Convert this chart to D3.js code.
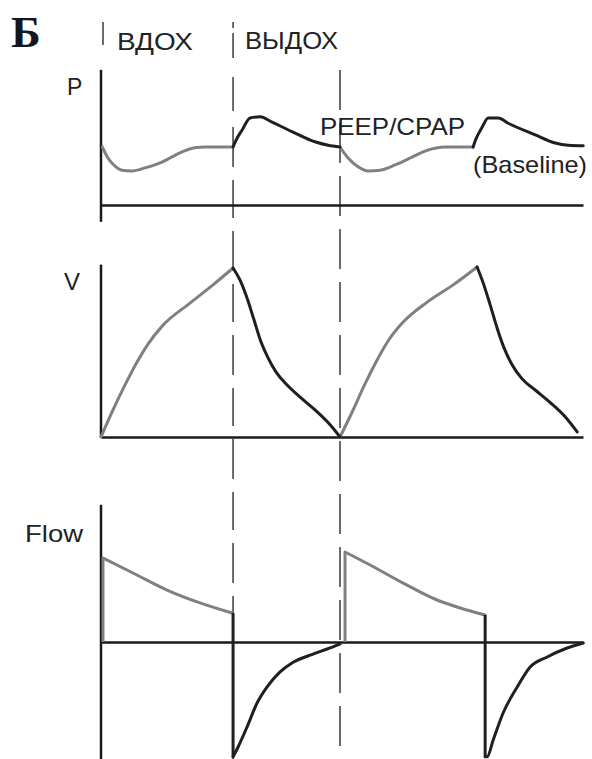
<!DOCTYPE html>
<html>
<head>
<meta charset="utf-8">
<script src="https://cdn.jsdelivr.net/npm/d3@7"></script>
<style>
  html, body { margin: 0; padding: 0; background: #fff; }
  svg { display: block; }
  text { font-family: "Liberation Sans", Arial, sans-serif; fill: #222; }
</style>
</head>
<body>
<script>
// Time in seconds; two breaths (inspiration then expiration each)
const phaseLabels = ["ВДОХ", "ВЫДОХ"];
const phaseTimes = [0, 1.0, 1.81];          // start of insp, start of exp, start of next insp

// Pressure, cmH2O: [t, P]
const pressureInsp1 = [[0.01,10],[0.053,8.1],[0.106,6.7],[0.159,6.0],[0.235,5.86],[0.333,6.4],[0.462,7.4],[0.523,8.1],[0.598,8.97],[0.659,9.57],[0.72,9.91],[0.788,10],[1.0,10]];
const pressureExp1  = [[1.0,10],[1.023,11.2],[1.068,12.9],[1.129,15.0],[1.205,15.2],[1.295,14.3],[1.47,12.4],[1.62,10.9],[1.72,10.3],[1.81,10]];
const pressureInsp2 = [[1.81,10],[1.871,8.1],[1.947,6.6],[2.023,5.86],[2.114,6.0],[2.227,6.9],[2.341,8.1],[2.402,8.79],[2.477,9.48],[2.538,9.83],[2.606,10],[2.818,10]];
const pressureExp2  = [[2.818,10],[2.836,11.2],[2.886,13.4],[2.932,15],[3.008,15],[3.083,14.1],[3.288,12.1],[3.439,10.7],[3.538,10.3],[3.652,10.2]];

// Volume, mL: [t, V]
const volumeInsp1 = [[0,0],[0.091,80],[0.182,154],[0.273,222],[0.356,275],[0.47,331],[0.674,396],[0.848,450],[1.0,500]];
const volumeExp1  = [[1.0,500],[1.053,464],[1.106,411],[1.159,346],[1.212,281],[1.265,234],[1.326,192],[1.402,157],[1.508,118],[1.621,80],[1.735,36],[1.81,0]];
const volumeInsp2 = [[1.81,0],[1.902,74],[1.992,151],[2.083,222],[2.174,284],[2.288,340],[2.47,399],[2.667,450],[2.848,503]];
const volumeExp2  = [[2.848,503],[2.894,456],[2.947,391],[3.0,322],[3.053,263],[3.114,213],[3.189,172],[3.288,139],[3.402,102],[3.515,60],[3.606,15]];

// Flow, L/min: [t, F]
const flowInsp1 = [[0.015,60],[0.242,49.3],[0.5,37.1],[0.75,27.9],[0.992,20.7]];
const flowExp1  = [[1.0,-82],[1.038,-75],[1.106,-60.7],[1.182,-43.6],[1.258,-32.1],[1.356,-21.4],[1.455,-14.5],[1.606,-8.6],[1.712,-5],[1.81,-1.4]];
const flowInsp2 = [[1.848,64.3],[2.038,55],[2.288,42.1],[2.545,30],[2.72,24.3],[2.909,19.3]];
const flowExp2  = [[2.909,-82],[2.924,-82],[2.97,-70],[3.045,-50.7],[3.152,-32.1],[3.25,-17.9],[3.379,-10.7],[3.53,-4.3],[3.652,-0.7]];
// Step changes of flow at the start of each phase: [t, from, to]
const flowStepsInsp = [[0.015,0,60],[1.848,0,64.3]];
const flowStepsExp  = [[1.0,20.7,-82],[2.909,19.3,-82]];

const W = 592, H = 759;
const grey = "#808080", dark = "#1f1f1f", axisCol = "#1a1a1a";

const svg = d3.select("body").append("svg").attr("width", W).attr("height", H);

const x = d3.scaleLinear().domain([0, 3.65]).range([101, 583]);
const yP = d3.scaleLinear().domain([0, 10]).range([205, 147]);
const yV = d3.scaleLinear().domain([0, 500]).range([437, 268]);
const yF = d3.scaleLinear().domain([0, 60]).range([642, 558]);

// Phase separators (dashed)
const sep = svg.append("g").attr("stroke", "#3a3a3a").attr("stroke-width", 1.5).attr("fill", "none");
sep.append("line").attr("x1", x(phaseTimes[0]) + 2).attr("x2", x(phaseTimes[0]) + 2)
  .attr("y1", 22).attr("y2", 45);
sep.append("line").attr("x1", x(phaseTimes[1])).attr("x2", x(phaseTimes[1]))
  .attr("y1", 22).attr("y2", H).attr("stroke-dasharray", "6,5,25,19,34,16,40,13,38,13,40,13,38,13,40,13,38,13,40,13,38,13,40,13,38,13,40,13");
sep.append("line").attr("x1", x(phaseTimes[2])).attr("x2", x(phaseTimes[2]))
  .attr("y1", 70).attr("y2", H).attr("stroke-dasharray", "40,13");

// Axes for each panel
function panelAxes(y, yLo, yHi) {
  const g = svg.append("g");
  g.append("g").attr("transform", `translate(0,${y(0)})`)
    .call(d3.axisBottom(x).tickValues([]).tickSizeOuter(0))
    .call(s => s.select(".domain").attr("stroke", axisCol).attr("stroke-width", 2.5));
  g.append("line").attr("x1", x(0)).attr("x2", x(0))
    .attr("y1", y(yLo)).attr("y2", y(yHi))
    .attr("stroke", axisCol).attr("stroke-width", 2.5);
}
panelAxes(yP, -2.9, 23.3);
panelAxes(yV, 0, 510);
panelAxes(yF, -84, 98);

function drawCurve(data, y, color) {
  const line = d3.line().x(d => x(d[0])).y(d => y(d[1])).curve(d3.curveMonotoneX);
  svg.append("path").datum(data).attr("d", line)
    .attr("fill", "none").attr("stroke", color).attr("stroke-width", 3)
    .attr("stroke-linejoin", "round").attr("stroke-linecap", "round");
}
function drawSteps(steps, y, color) {
  svg.append("g").selectAll("line").data(steps).join("line")
    .attr("x1", d => x(d[0])).attr("x2", d => x(d[0]))
    .attr("y1", d => y(d[1])).attr("y2", d => y(d[2]))
    .attr("stroke", color).attr("stroke-width", 3);
}

drawCurve(pressureInsp1, yP, grey);
drawCurve(pressureInsp2, yP, grey);
drawCurve(pressureExp1, yP, dark);
drawCurve(pressureExp2, yP, dark);

drawCurve(volumeInsp1, yV, grey);
drawCurve(volumeInsp2, yV, grey);
drawCurve(volumeExp1, yV, dark);
drawCurve(volumeExp2, yV, dark);

drawSteps(flowStepsInsp, yF, grey);
drawCurve(flowInsp1, yF, grey);
drawCurve(flowInsp2, yF, grey);
drawSteps(flowStepsExp, yF, dark);
drawCurve(flowExp1, yF, dark);
drawCurve(flowExp2, yF, dark);

// Labels
svg.append("text").attr("x", 11).attr("y", 47)
  .style("font-family", "'Liberation Serif', 'Times New Roman', serif")
  .style("font-weight", "bold").style("font-size", "45px").style("fill", "#15151f").text("Б");
svg.append("text").attr("x", 117).attr("y", 50).style("font-size", "24px")
  .attr("textLength", 76).attr("lengthAdjust", "spacingAndGlyphs").text(phaseLabels[0]);
svg.append("text").attr("x", 245).attr("y", 49).style("font-size", "24px")
  .attr("textLength", 93).attr("lengthAdjust", "spacingAndGlyphs").text(phaseLabels[1]);

svg.append("text").attr("x", 67).attr("y", 95).style("font-size", "23px").text("P");
svg.append("text").attr("x", 64).attr("y", 290).style("font-size", "24px").text("V");
svg.append("text").attr("x", 25).attr("y", 542).style("font-size", "24px")
  .attr("textLength", 58).attr("lengthAdjust", "spacingAndGlyphs").text("Flow");

svg.append("text").attr("x", 320).attr("y", 135).style("font-size", "24px")
  .attr("textLength", 145).attr("lengthAdjust", "spacingAndGlyphs").text("PEEP/CPAP");
svg.append("text").attr("x", 473).attr("y", 173).style("font-size", "24px")
  .attr("textLength", 114).attr("lengthAdjust", "spacingAndGlyphs").text("(Baseline)");
</script>
</body>
</html>
